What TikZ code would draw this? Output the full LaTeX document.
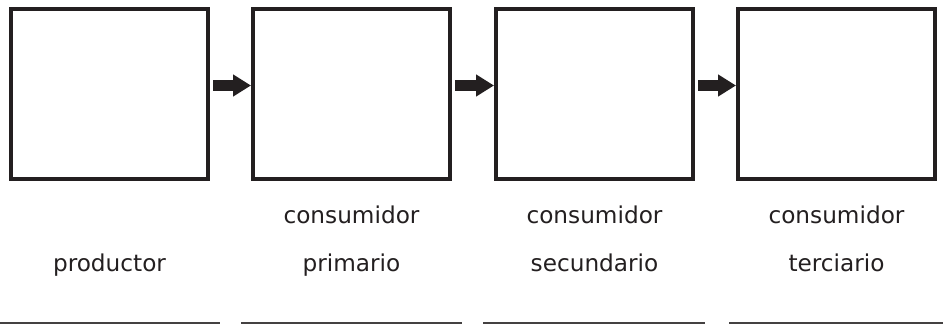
\documentclass[tikz,border=0pt]{standalone}
\usepackage{fontspec}
\setmainfont{DejaVu Sans}
\usetikzlibrary{arrows.meta,calc}
\definecolor{ink}{HTML}{231F20}
\begin{document}
\begin{tikzpicture}[x=1pt,y=-1pt,
  box/.style={draw=ink,line width=4pt,minimum width=197pt,minimum height=170pt,inner sep=0pt},
  flow/.style={draw=ink,line width=11pt,-{Triangle[length=18pt,width=21pt]}},
  lbl/.style={anchor=base,inner sep=0pt,font=\fontsize{23.2}{27}\selectfont,text=ink},
  blank/.style={draw=ink!85,line width=1.4pt}]
\useasboundingbox (0,0) rectangle (943,327);
\node[box] (b1) at (109.5,93.5) {};
\node[box] (b2) at (351.5,93.5) {};
\node[box] (b3) at (594.5,93.5) {};
\node[box] (b4) at (836.5,93.5) {};
\draw[flow] ($(b1.east)+(3,-8)$) -- ($(b2.west)+(0,-8)$);
\draw[flow] ($(b2.east)+(3,-8)$) -- ($(b3.west)+(0,-8)$);
\draw[flow] ($(b3.east)+(3,-8)$) -- ($(b4.west)+(0,-8)$);
\node[lbl] (t1) at (109.5,271) {productor};
\node[lbl] (t2a) at (351.5,223) {consumidor};
\node[lbl] (t2b) at (351.5,271) {primario};
\node[lbl] (t3a) at (594.5,223) {consumidor};
\node[lbl] (t3b) at (594.5,271) {secundario};
\node[lbl] (t4a) at (836.5,223) {consumidor};
\node[lbl] (t4b) at (836.5,271) {terciario};
\draw[blank] (0,323) -- (220,323);
\draw[blank] (241,323) -- (462,323);
\draw[blank] (483,323) -- (705,323);
\draw[blank] (729,323) -- (943,323);
\end{tikzpicture}
\end{document}
